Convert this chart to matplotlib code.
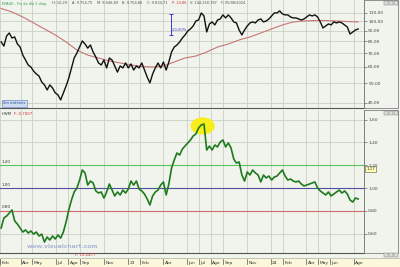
import pandas as pd
import matplotlib
matplotlib.use('Agg')
import matplotlib.pyplot as plt
import matplotlib.dates as mdates
from matplotlib.patches import Ellipse, Rectangle
from matplotlib.ticker import NullLocator, NullFormatter
from matplotlib.transforms import offset_copy

plt.rcParams['font.family'] = 'DejaVu Sans'

# weekly samples
dates = pd.date_range('2022-02-10', '2024-08-12', periods=133)

price = [79.4, 75.8, 84.9, 87.8, 83.0, 84.0, 77.6, 75.0, 68.5, 64.8,
         61.3, 59.9, 57.2, 55.4, 54.1, 50.6, 49.0, 46.3, 49.0, 47.3,
         44.8, 43.8, 41.4, 44.8, 48.4, 52.9, 59.3, 66.3, 70.1, 75.0,
         80.3, 77.6, 74.1, 76.7, 70.9, 67.0, 62.7, 61.3, 64.8, 59.3,
         66.3, 64.8, 60.6, 56.6, 60.6, 59.3, 62.7, 59.3, 62.0, 57.9,
         60.6, 59.3, 62.7, 57.9, 53.5, 50.1, 55.4, 59.3, 62.7, 59.3,
         63.4, 57.9, 63.4, 70.9, 75.0, 76.7, 79.4, 83.0, 85.9, 89.8,
         91.9, 95.0, 100.5, 101.6, 110.0, 106.3, 88.8, 97.2, 99.4, 96.1,
         101.6, 102.8, 107.6, 104.0, 107.6, 104.0, 99.4, 98.3, 90.8, 85.9,
         90.8, 95.0, 98.3, 99.4, 98.3, 101.6, 102.8, 99.4, 100.5, 102.8,
         106.3, 110.0, 110.0, 112.5, 108.8, 107.6, 107.6, 105.1, 104.0, 104.0,
         102.8, 101.6, 102.8, 105.1, 107.6, 106.3, 107.6, 105.1, 99.4, 92.9,
         95.0, 97.2, 96.1, 99.4, 98.3, 99.4, 98.3, 96.1, 93.9, 86.8,
         88.8, 90.8, 91.9]

ratio = [0.649, 0.737, 0.754, 0.781, 0.807, 0.711, 0.684, 0.649, 0.614, 0.632,
         0.605, 0.623, 0.596, 0.614, 0.579, 0.596, 0.526, 0.570, 0.544, 0.579,
         0.553, 0.588, 0.561, 0.614, 0.702, 0.807, 0.895, 0.965, 1.000, 1.070,
         1.158, 1.132, 1.026, 1.061, 1.044, 0.974, 0.956, 0.965, 0.912, 0.965,
         1.035, 0.982, 0.930, 0.965, 0.939, 0.982, 0.956, 0.991, 1.061, 1.026,
         1.061, 0.991, 0.974, 0.947, 0.904, 0.851, 0.930, 0.965, 0.982, 1.026,
         1.053, 0.939, 1.035, 1.175, 1.246, 1.307, 1.289, 1.342, 1.368, 1.395,
         1.421, 1.456, 1.474, 1.526, 1.553, 1.561, 1.333, 1.368, 1.333, 1.377,
         1.360, 1.404, 1.421, 1.360, 1.395, 1.351, 1.254, 1.219, 1.228, 1.114,
         1.061, 1.140, 1.114, 1.158, 1.132, 1.114, 1.053, 1.114, 1.088, 1.105,
         1.070, 1.096, 1.105, 1.132, 1.158, 1.105, 1.070, 1.079, 1.061, 1.053,
         1.061, 1.035, 1.018, 1.026, 1.035, 1.044, 1.053, 1.000, 0.974, 0.956,
         0.939, 0.965, 0.930, 0.947, 0.965, 0.982, 0.956, 0.974, 0.947, 0.895,
         0.877, 0.912, 0.904]

# moving average, every 4th week
ma_dates = dates[::4]
ma = [115.6, 111.2, 105.1, 98.3, 91.9, 85.9, 79.4, 72.5, 68.5, 66.3,
      64.1, 62.7, 61.3, 60.3, 59.9, 60.6, 63.4, 66.3, 67.8, 70.9,
      75.0, 77.6, 81.2, 84.0, 87.8, 91.9, 96.1, 99.4, 100.5, 101.0,
      101.0, 100.5, 99.9, 99.4]

tick_dates = ['2022-02-07', '2022-04-01', '2022-05-01', '2022-07-01', '2022-08-01',
              '2022-09-01', '2022-11-01', '2023-01-01', '2023-02-01', '2023-04-01',
              '2023-06-01', '2023-07-01', '2023-08-01', '2023-09-01', '2023-11-01',
              '2024-01-01', '2024-02-01', '2024-04-01', '2024-05-01', '2024-06-01',
              '2024-08-01']
tick_labels = ['Feb', 'Abr', 'May', 'Jul', 'Ago', 'Sep', 'Nov', '23', 'Feb', 'Abr',
               'Jun', 'Jul', 'Ago', 'Sep', 'Nov', '24', 'Feb', 'Abr', 'May', 'Jun',
               'Ago']

price_ticks = [40, 50, 60, 70, 80, 90, 100, 110]
ratio_ticks = [0.6, 0.8, 1.0, 1.2, 1.4, 1.6]
levels = [1.20, 1.00, 0.80]
level_colors = ['#5cc35c', '#52529c', '#d46c6c']

BG = '#F0F4EC'
GRID = '#C9CFC3'
W, H = 400, 267


def fx(x):
    return x / W


def fy(y):
    return 1 - y / H


fig = plt.figure(figsize=(4, 2.67), dpi=100)
fig.patch.set_facecolor(BG)

ax1 = fig.add_axes([0, fy(108), fx(364), 108 / H])
ax2 = fig.add_axes([0, fy(253), fx(364), (253 - 110) / H])

tick_nums = mdates.date2num(pd.to_datetime(tick_dates))
xmin = mdates.date2num(pd.Timestamp('2022-02-07'))
xmax = mdates.date2num(pd.Timestamp('2024-08-27'))

for ax in (ax1, ax2):
    ax.set_facecolor(BG)
    ax.set_xlim(xmin, xmax)
    ax.set_xticks(tick_nums)
    ax.tick_params(axis='x', length=0, labelbottom=False)
    ax.yaxis.tick_right()
    ax.tick_params(axis='y', which='major', direction='out', length=2, width=0.5,
                   color='#666666', labelsize=3.2, labelcolor='#444444', pad=1)
    ax.grid(True, color=GRID, lw=0.6)
    ax.set_axisbelow(True)
    ax.spines['left'].set_visible(False)
    ax.spines['top'].set_visible(False)
    ax.spines['right'].set_color('#808080')
    ax.spines['right'].set_linewidth(0.6)
    ax.spines['bottom'].set_color('#555555')
    ax.spines['bottom'].set_linewidth(0.8)

# price panel
ax1.set_yscale('log')
ax1.set_ylim(37.8, 127.2)
ax1.set_yticks(price_ticks)
ax1.set_yticklabels(['{:.2f}'.format(v).replace('.', ',') for v in price_ticks])
ax1.yaxis.set_minor_locator(NullLocator())
ax1.yaxis.set_minor_formatter(NullFormatter())
ax1.plot(ma_dates, ma, color='#c97575', lw=0.8)
ax1.plot(dates, price, color='#111111', lw=1.0)

d20 = pd.Timestamp('2023-04-21')
ax1.plot([d20, d20], [86.0, 108.8], color='#3b3bd0', lw=0.7, marker='_', ms=3, mew=0.7)
ax1.text(d20 + pd.Timedelta(days=3), 90.8, '-20,00%', fontsize=2.6, color='#3b3bd0',
         va='center', ha='left')

# ratio panel
ax2.set_ylim(0.43, 1.684)
ax2.set_yticks(ratio_ticks)
ax2.set_yticklabels(['{:.2f}'.format(v).replace('.', ',') for v in ratio_ticks])
for lv, c in zip(levels, level_colors):
    ax2.axhline(lv, color=c, lw=0.8, zorder=1)
    ax2.text(0.004, lv + 0.012, '{:.2f}'.format(lv), transform=ax2.get_yaxis_transform(),
             fontsize=3, color='#333333', va='bottom', ha='left')

ell_c = mdates.date2num(pd.Timestamp('2023-07-11'))
ax2.add_patch(Ellipse((ell_c, 1.544), 62, 0.15, facecolor='#f7ee1c', edgecolor='none', zorder=2))
ax2.plot(dates, ratio, color='#1e7a1e', lw=1.2, zorder=3)

ax2.text(1.006, 1.17, '1,17', transform=ax2.get_yaxis_transform(), fontsize=3,
         color='#333333', va='center', ha='left', zorder=5, clip_on=False,
         bbox=dict(boxstyle='square,pad=0.25', fc='#ffffb4', ec='#555555', lw=0.4))

# date axis strip
fig.add_artist(Rectangle((0, 0), 1, 9 / H, transform=fig.transFigure,
                         fc='#FAF7DA', ec='#a0a090', lw=0.4, zorder=-1))
lab_tr = offset_copy(ax2.get_xaxis_transform(), fig=fig, x=1.5, y=0, units='dots')
for d, lab in zip(tick_nums, tick_labels):
    ax2.plot([d, d], [-0.043, -0.075], transform=ax2.get_xaxis_transform(),
             color='#555555', lw=0.5, clip_on=False)
    ax2.text(d, -0.07, lab, transform=lab_tr, fontsize=3.2, color='#333333',
             ha='left', va='center', clip_on=False)

# right label strips and window buttons
for top, bot in ((0, 108), (110, 253)):
    fig.add_artist(Rectangle((fx(364), fy(bot)), fx(34), (bot - top) / H,
                             transform=fig.transFigure, fc='none', ec='#808080', lw=0.6))
for yb in (1, 111, 253):
    for xb in (384, 389, 394):
        fig.add_artist(Rectangle((fx(xb), fy(yb + 4)), fx(4), 4 / H, transform=fig.transFigure,
                                 fc='#dcdfd8', ec='#707070', lw=0.3))

# header texts
header = [(2, 'EPAGE - Fin de día 1 diap.', '#2e9e50'),
          (52, 'H: 10,29', '#505050'),
          (72, 'A: 9.754,75', '#505050'),
          (97, 'M: 9.646,89', '#505050'),
          (122, 'B: 9.754,86', '#505050'),
          (147, 'C: 9.834,71', '#505050'),
          (172, 'P: 10,86', '#d03030'),
          (190, 'V: 244.250.397', '#505050'),
          (221, 'F: 05/08/2024', '#505050')]
for x, s, c in header:
    fig.text(fx(x), fy(3.5), s, fontsize=2.5, color=c, ha='left', va='center')

fig.text(fx(2), fy(114), 'HWM', fontsize=2.8, color='#333333', ha='left', va='center')
fig.text(fx(14), fy(114), 'F: 0,7007', fontsize=2.8, color='#d03030', ha='left', va='center')
fig.text(fx(75), fy(255.5), 'F: 15,2477', fontsize=2.8, color='#d03030', ha='left', va='center')

fig.text(fx(3), fy(103.5), 'Sin órdenes', fontsize=2.7, color='#2a4aa0', ha='left', va='center',
         bbox=dict(boxstyle='square,pad=0.35', fc='#cddcf2', ec='#5a78b4', lw=0.4))

fig.text(fx(62), fy(247), 'www.visualchart.com', fontsize=4.2, color='#aab4d6',
         fontweight='bold', ha='center', va='center')

fig.savefig('out.png', dpi=100, facecolor=fig.get_facecolor())
